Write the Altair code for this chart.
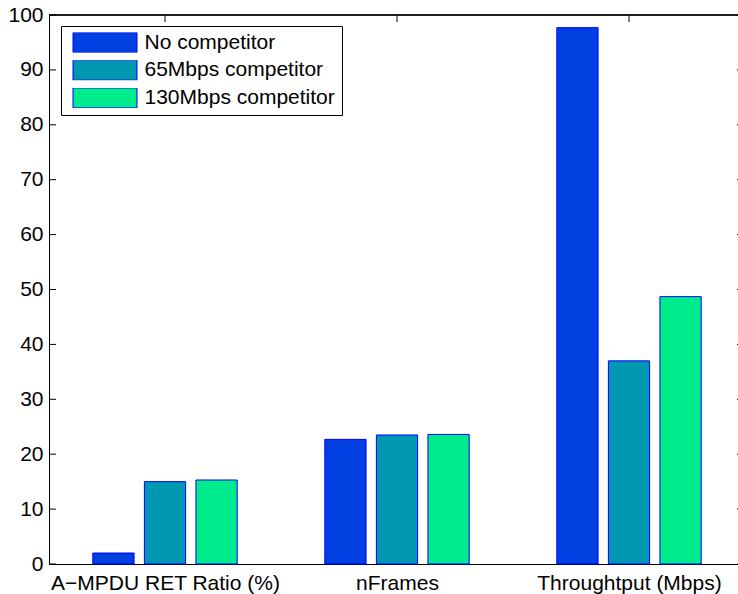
import altair as alt
import pandas as pd

# Measured quantities along the horizontal axis
categories = ["A\u2212MPDU RET Ratio (%)", "nFrames", "Throughtput (Mbps)"]
# One entry per competitor scenario
series = ["No competitor", "65Mbps competitor", "130Mbps competitor"]
no_competitor = [2.0, 22.7, 97.7]
competitor_65 = [15.0, 23.5, 37.0]
competitor_130 = [15.3, 23.6, 48.7]
series_colors = ["#0040E0", "#0098B0", "#00EC8C"]
y_ticks = list(range(0, 101, 10))
x_ticks = [1, 2, 3]

FONT = "Liberation Sans"
FONT_SIZE = 21

rows = []
for s_idx, (name, vals) in enumerate(zip(series, [no_competitor, competitor_65, competitor_130])):
    for c_idx, v in enumerate(vals):
        rows.append({"group": c_idx + 1, "slot": s_idx - 1, "series": name, "value": v})
bars_df = pd.DataFrame(rows)

# grouped-bar geometry: group width min(0.8, n/(n+1.5)), bar = 80% of its slot
n = len(series)
slot_w = min(0.8, n / (n + 1.5)) / n
half_bar = 0.8 * slot_w / 2

xscale = alt.Scale(domain=[0.5, 3.5], range=[0, 696], nice=False, zero=False)
yscale = alt.Scale(domain=[0, 100], nice=False)

label_expr = "[" + ",".join("'" + c + "'" for c in categories) + "][datum.value - 1]"
xaxis = alt.Axis(values=x_ticks, labelExpr=label_expr, tickSize=0, grid=False,
                 domainColor="black", labelFont=FONT, labelFontSize=FONT_SIZE,
                 labelColor="black", labelPadding=8, labelAngle=0, title=None,
                 labelAlign="center", labelLimit=500)
yaxis = alt.Axis(values=y_ticks, tickSize=0, grid=False, domainColor="black",
                 labelFont=FONT, labelFontSize=FONT_SIZE, labelColor="black",
                 labelPadding=6, title=None)

ytick_df = pd.DataFrame({"v": y_ticks})
xtick_df = pd.DataFrame({"g": x_ticks})

left_ticks = alt.Chart(ytick_df).mark_rule(color="black", strokeWidth=1).encode(
    y=alt.Y("v:Q", scale=yscale, axis=yaxis),
    x=alt.value(0), x2=alt.value(7))
right_ticks = alt.Chart(ytick_df).mark_rule(color="black", strokeWidth=1).encode(
    y=alt.Y("v:Q", scale=yscale, axis=yaxis),
    x=alt.value(688), x2=alt.value(696))
top_ticks = alt.Chart(xtick_df).mark_rule(color="black", strokeWidth=1).encode(
    x=alt.X("g:Q", scale=xscale, axis=xaxis),
    y=alt.value(0), y2=alt.value(7))
bottom_ticks = alt.Chart(xtick_df).mark_rule(color="black", strokeWidth=1).encode(
    x=alt.X("g:Q", scale=xscale, axis=xaxis),
    y=alt.value(542), y2=alt.value(549))
top_border = alt.Chart(xtick_df).mark_rule(color="black", strokeWidth=1).encode(
    x=alt.value(0), x2=alt.value(696), y=alt.value(0))

bars = alt.Chart(bars_df).transform_calculate(
    left=f"datum.group + datum.slot * {slot_w} - {half_bar}",
    right=f"datum.group + datum.slot * {slot_w} + {half_bar}",
).mark_rect(stroke="#0000FF", strokeWidth=1, opacity=1).encode(
    x=alt.X("left:Q", scale=xscale, axis=xaxis),
    x2="right:Q",
    y=alt.Y("value:Q", scale=yscale, axis=yaxis),
    y2=alt.datum(0),
    color=alt.Color(
        "series:N",
        scale=alt.Scale(domain=series, range=series_colors),
        sort=series,
        legend=alt.Legend(
            title=None, orient="none", legendX=12, legendY=11, direction="vertical",
            symbolType="M-1,-0.3125H1V0.3125H-1Z", symbolSize=4096,
            symbolStrokeColor="#0000FF", symbolStrokeWidth=1, symbolOpacity=1,
            clipHeight=20, rowPadding=6.7, padding=6.5, symbolOffset=5, labelOffset=7,
            labelFont=FONT, labelFontSize=FONT_SIZE, labelColor="black", labelLimit=400,
            strokeColor="black", fillColor="white", cornerRadius=0,
        ),
    ),
)

chart = alt.layer(left_ticks, right_ticks, top_ticks, bottom_ticks, top_border, bars).properties(
    width=689, height=549,
    autosize=alt.AutoSizeParams(type="none"),
    padding={"left": 49, "top": 15, "right": 0, "bottom": 30},
    background="white",
).configure_view(strokeWidth=0)

chart.save("out.html", embed_options={"renderer": "svg", "actions": False})
